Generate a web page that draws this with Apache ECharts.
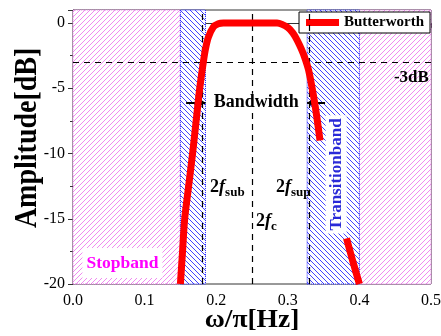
<!DOCTYPE html>
<html>
<head>
<meta charset="utf-8">
<script src="https://cdn.jsdelivr.net/npm/echarts@6/dist/echarts.min.js"></script>
<style>
  html, body { margin: 0; padding: 0; background: #fff; }
  #chart { width: 441px; height: 336px; }
</style>
</head>
<body>
<div id="chart"></div>
<script>
// response curve, split where the label box hides it
const curveX = [0.150, 0.153, 0.156, 0.1615, 0.167, 0.172, 0.177, 0.182, 0.185, 0.189, 0.196, 0.203, 0.21,
  0.285, 0.292, 0.300, 0.307, 0.313, 0.319, 0.324, 0.329, 0.335, 0.340, 0.345,
  0.360,
  0.382, 0.391, 0.400];
const curveY = [-20, -17.5, -15, -12.5, -10, -7.5, -5, -3, -2, -1.1, -0.3, -0.05, 0,
  0, -0.1, -0.35, -0.75, -1.3, -2.0, -2.7, -3.6, -5.3, -7.0, -9.0,
  null,
  -16.5, -18.3, -20];

const stopbands = [[0, 0.15], [0.4, 0.5]];
const transitionBands = [[0.15, 0.185], [0.327, 0.4]];
const guideX = [0.185, 0.25, 0.327];
const guideY = [-3];

const xTicks = [0.0, 0.1, 0.2, 0.3, 0.4, 0.5];
const yTicks = [-20, -15, -10, -5, 0];

const serif = '"Liberation Serif", "Times New Roman", serif';

function hatch(color, forward) {
  const s = 5;
  const c = document.createElement('canvas');
  c.width = s; c.height = s;
  const g = c.getContext('2d');
  g.fillStyle = '#fff';
  g.fillRect(0, 0, s, s);
  g.strokeStyle = color;
  g.lineWidth = 1;
  g.beginPath();
  if (forward) {
    g.moveTo(-1, s + 1); g.lineTo(s + 1, -1);
    g.moveTo(-1, 1); g.lineTo(1, -1);
    g.moveTo(s - 1, s + 1); g.lineTo(s + 1, s - 1);
  } else {
    g.moveTo(-1, -1); g.lineTo(s + 1, s + 1);
    g.moveTo(s - 1, -1); g.lineTo(s + 1, 1);
    g.moveTo(-1, s - 1); g.lineTo(1, s + 1);
  }
  g.stroke();
  return { image: c, repeat: 'repeat' };
}

const pinkFill = hatch('#f08af0', true);
const blueFill = hatch('#4444ff', false);

const chart = echarts.init(document.getElementById('chart'), null, { renderer: 'canvas' });

const curveData = curveX.map((x, i) => [x, curveY[i] === null ? '-' : curveY[i]]);

chart.setOption({
  animation: false,
  backgroundColor: '#fff',
  grid: {
    left: 73, right: 10, top: 10, bottom: 52,
    outerBoundsMode: 'none', containLabel: false,
    show: true, borderColor: '#333', borderWidth: 1
  },
  legend: {
    right: 11, top: 12,
    data: ['Butterworth'],
    icon: 'rect',
    itemWidth: 33, itemHeight: 7,
    padding: [3, 6, 3, 7],
    backgroundColor: '#fff',
    borderColor: '#000', borderWidth: 1, borderRadius: 0,
    textStyle: { fontFamily: serif, fontWeight: 'bold', fontSize: 15, color: '#000' }
  },
  xAxis: {
    type: 'value', min: 0, max: 0.5, interval: 0.1,
    axisLine: { lineStyle: { color: '#333', width: 1 } },
    axisTick: { show: true, length: 5, lineStyle: { color: '#333' } },
    minorTick: { show: true, splitNumber: 2, length: 3, lineStyle: { color: '#333' } },
    splitLine: { show: false },
    axisLabel: {
      margin: 9, fontFamily: serif, fontSize: 16, color: '#000',
      formatter: v => xTicks.some(t => Math.abs(t - v) < 1e-9) ? v.toFixed(1) : ''
    }
  },
  yAxis: {
    type: 'value', min: -20, max: 1, interval: 5,
    axisLine: { show: true, lineStyle: { color: '#333', width: 1 } },
    axisTick: { show: true, length: 5, lineStyle: { color: '#333' } },
    minorTick: { show: true, splitNumber: 2, length: 3, lineStyle: { color: '#333' } },
    splitLine: { show: false },
    axisLabel: {
      margin: 8, fontFamily: serif, fontSize: 16, color: '#000',
      showMaxLabel: false,
      formatter: v => yTicks.indexOf(v) >= 0 ? String(v) : ''
    }
  },
  series: [
    {
      name: 'bands', type: 'line', data: [], silent: true,
      markArea: {
        silent: true,
        data: stopbands.map(b => [
          { xAxis: b[0], itemStyle: { color: pinkFill, borderColor: '#e070e0', borderWidth: 1, borderType: 'dotted' } },
          { xAxis: b[1] }
        ]).concat(transitionBands.map(b => [
          { xAxis: b[0], itemStyle: { color: blueFill, borderColor: '#2020ff', borderWidth: 1, borderType: 'dotted' } },
          { xAxis: b[1] }
        ]))
      },
      markLine: {
        silent: true, symbol: 'none',
        label: { show: false },
        lineStyle: { color: '#000', type: [6, 5], width: 1.2 },
        data: guideX.map(x => ({ xAxis: x })).concat(guideY.map(y => ({ yAxis: y })))
      }
    },
    {
      name: 'Butterworth', type: 'line', data: curveData,
      smooth: 0.3, showSymbol: false, symbol: 'none', connectNulls: false,
      lineStyle: { color: '#ff0000', width: 7, cap: 'butt' },
      itemStyle: { color: '#ff0000' },
      z: 5
    },
    {
      name: 'arrows', type: 'line', data: [], silent: true, z: 6,
      markLine: {
        silent: true,
        symbol: ['none', 'arrow'], symbolSize: [10, 10],
        label: { show: false },
        lineStyle: { color: '#000', type: 'solid', width: 2 },
        itemStyle: { color: '#000' },
        data: [
          [{ coord: [0.158, -6.1] }, { coord: [0.185, -6.1] }],
          [{ coord: [0.352, -6.1] }, { coord: [0.327, -6.1] }]
        ]
      }
    }
  ]
});

// annotations placed in data coordinates
const P = (x, y) => chart.convertToPixel({ gridIndex: 0 }, [x, y]);
const bold = { fontFamily: serif, fontWeight: 'bold', fill: '#000' };
const subRich = {
  n: { fontFamily: serif, fontWeight: 'bold', fontSize: 18, lineHeight: 24, verticalAlign: 'middle' },
  f: { fontFamily: serif, fontWeight: 'bold', fontStyle: 'italic', fontSize: 18, lineHeight: 24, verticalAlign: 'middle' },
  s: { fontFamily: serif, fontWeight: 'bold', fontSize: 13, lineHeight: 13, verticalAlign: 'bottom' }
};

function fText(x, y, sub) {
  const p = P(x, y);
  return {
    type: 'text', x: p[0], y: p[1], z: 20,
    style: { text: '{n|2}{f|f}{s|' + sub + '}', rich: subRich, fill: '#000', align: 'left', verticalAlign: 'middle' }
  };
}

const bw = P(0.256, -6.1);
const db3 = P(0.497, -4.2);
const stop = P(0.069, -18.4);
const trans = P(0.3675, -11.6);
const xTitle = P(0.25, -20);
const yTitle = P(0, -8.8);

chart.setOption({
  graphic: [
    { type: 'text', x: xTitle[0], y: xTitle[1] + 37, z: 20, scaleX: 1.1,
      style: Object.assign({ text: 'ω/π[Hz]', fontSize: 25, align: 'center', verticalAlign: 'middle' }, bold) },
    { type: 'text', x: yTitle[0] - 45, y: yTitle[1], z: 20, rotation: Math.PI / 2, scaleY: 1.12,
      style: Object.assign({ text: 'Amplitude[dB]', fontSize: 28, align: 'center', verticalAlign: 'middle' }, bold) },
    { type: 'text', x: bw[0], y: bw[1], z: 20,
      style: Object.assign({ text: 'Bandwidth', fontSize: 18, align: 'center', verticalAlign: 'middle', backgroundColor: '#fff' }, bold) },
    { type: 'text', x: db3[0], y: db3[1], z: 20,
      style: Object.assign({ text: '-3dB', fontSize: 17, align: 'right', verticalAlign: 'middle' }, bold) },
    fText(0.1915, -12.6, 'sub'),
    fText(0.2835, -12.6, 'sup'),
    fText(0.2555, -15.2, 'c'),
    { type: 'text', x: stop[0], y: stop[1], z: 20,
      style: { text: 'Stopband', fontFamily: serif, fontWeight: 'bold', fontSize: 17.5, fill: '#ff00ff',
        align: 'center', verticalAlign: 'middle', backgroundColor: '#fff', padding: [6, 4, 6, 4] } },
    { type: 'text', x: trans[0], y: trans[1], z: 20, rotation: Math.PI / 2,
      style: { text: 'Transitionband', fontFamily: serif, fontWeight: 'bold', fontSize: 17, fill: '#2a2ad8',
        align: 'center', verticalAlign: 'middle', backgroundColor: '#fff', padding: [2, 3, 2, 3] } }
  ]
});
</script>
</body>
</html>
